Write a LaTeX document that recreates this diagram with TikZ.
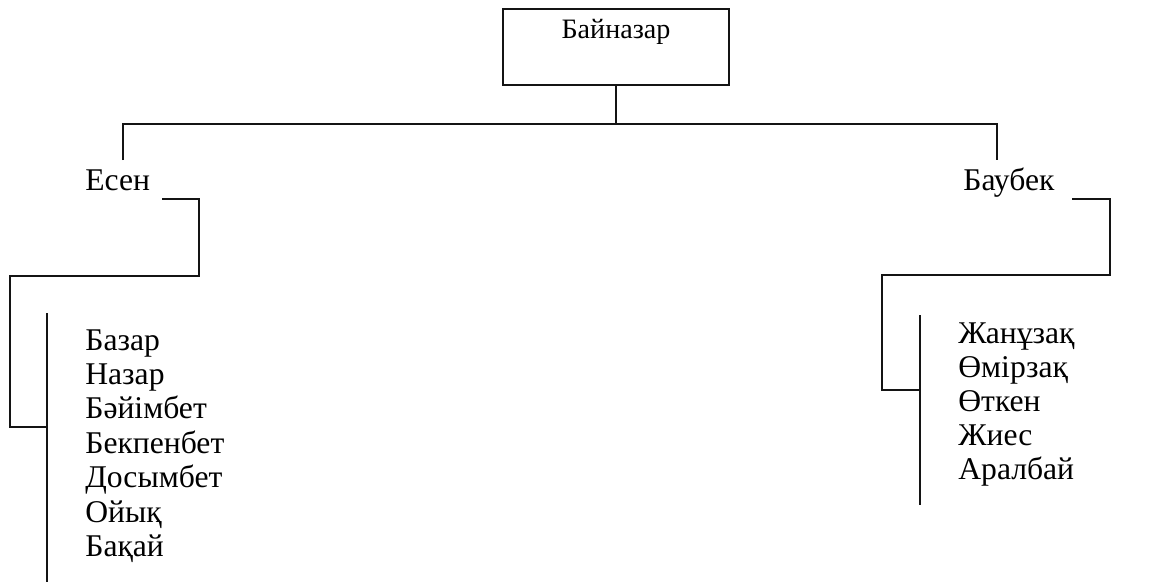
\documentclass[tikz,border=0pt]{standalone}
\usepackage{fontspec}
\setmainfont{Liberation Serif}
\usetikzlibrary{positioning}
\definecolor{figline}{RGB}{20,20,20}
\tikzset{
  ln/.style  ={draw=figline, line width=0.6pt, line cap=butt},
  lnb/.style ={draw=figline, line width=1.1pt},
  nm/.style  ={font=\fontsize{18}{20}\selectfont, inner sep=0pt, anchor=base west},
  top/.style ={draw=figline, line width=0.8pt, font=\fontsize{16}{18}\selectfont,
               inner sep=0pt, minimum width=4.52cm, text height=0.58cm, text depth=0.94cm},
}

\begin{document}
\begin{tikzpicture}[x=0.02cm, y=-0.02cm]
  \useasboundingbox (0,0) rectangle (1176,583);
  % root box
  \node[top] (root) at (616,47) {Байназар};
  \coordinate (barL) at (123,124);
  \coordinate (barR) at (997,124);
  \coordinate (dropL) at (123,160);
  \coordinate (dropR) at (997,160);
  \draw[ln] (root.south) -- (root.south |- barL);
  \draw[ln] (dropL) -- (barL) -- (barR) -- (dropR);
  % sons
  \node[nm] (esen) at (85,190) {Есен};
  \node[nm] (baubek) at (963,190) {Баубек};
  % left branch
  \coordinate (eA) at (162,199);
  \coordinate (eB) at (199,276);
  \coordinate (eC) at (10,427);
  \coordinate (lt) at (47,313);
  \coordinate (lb) at (47,582);
  \draw[ln] (eA) -- (eA -| eB) -- (eB) -- (eB -| eC) -- (eC) -- (eC -| lt);
  \draw[lnb] (lt) -- (lb);
  \node[nm] (bazar) at (85,350) {Базар};
  \node[nm] (nazar) at (85,384) {Назар};
  \node[nm] (baiymbet) at (85,418) {Бәйімбет};
  \node[nm] (bekpenbet) at (85,453) {Бекпенбет};
  \node[nm] (dosymbet) at (85,487) {Досымбет};
  \node[nm] (oiyq) at (85,522) {Ойық};
  \node[nm] (baqai) at (85,556) {Бақай};
  % right branch
  \coordinate (bA) at (1072,199);
  \coordinate (bB) at (1110,275);
  \coordinate (bC) at (882,390);
  \coordinate (rt) at (920,315);
  \coordinate (rb) at (920,505);
  \draw[ln] (bA) -- (bA -| bB) -- (bB) -- (bB -| bC) -- (bC) -- (bC -| rt);
  \draw[lnb] (rt) -- (rb);
  \node[nm] (zhanuzaq) at (958,343) {Жанұзақ};
  \node[nm] (omirzaq) at (958,377) {Өмірзақ};
  \node[nm] (otken) at (958,411) {Өткен};
  \node[nm] (zhies) at (958,445) {Жиес};
  \node[nm] (aralbai) at (958,479) {Аралбай};
\end{tikzpicture}
\end{document}
